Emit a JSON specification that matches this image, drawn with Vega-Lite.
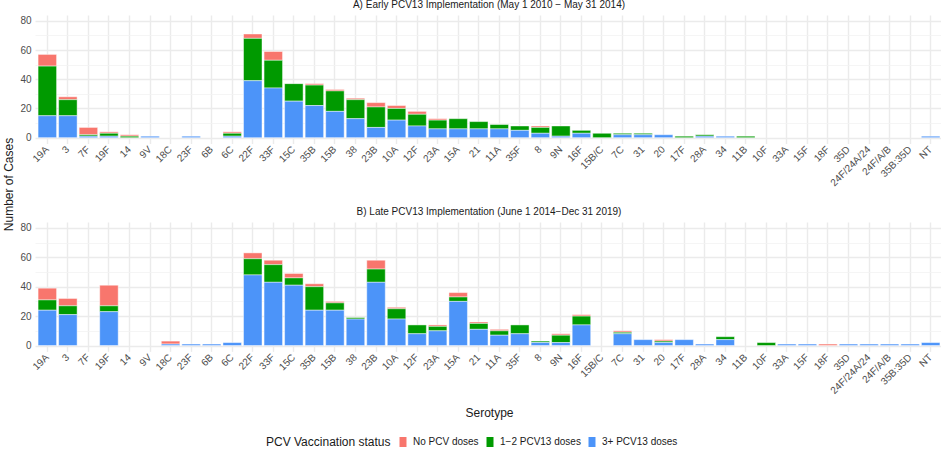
{
  "$schema": "https://vega.github.io/schema/vega-lite/v6.json",
  "padding": {"left": 2, "top": 0, "right": 0, "bottom": 0},
  "background": "white",
  "config": {
    "font": "Liberation Sans",
    "view": {"stroke": null},
    "title": {"fontSize": 10, "fontWeight": "normal", "color": "#1A1A1A", "anchor": "middle", "offset": 5, "font": "Liberation Sans"},
    "axis": {"labelFont": "Liberation Sans", "titleFont": "Liberation Sans"}
  },
  "datasets": {
    "cases": [
      {"p": "A", "s": "19A", "no": 8, "one": 34, "three": 15},
      {"p": "A", "s": "3", "no": 2, "one": 11, "three": 15},
      {"p": "A", "s": "7F", "no": 5, "one": 1, "three": 1},
      {"p": "A", "s": "19F", "no": 1, "one": 2, "three": 1},
      {"p": "A", "s": "14", "no": 1, "one": 1, "three": 0},
      {"p": "A", "s": "9V", "no": 0, "one": 0, "three": 1},
      {"p": "A", "s": "23F", "no": 0, "one": 0, "three": 1},
      {"p": "A", "s": "6C", "no": 1, "one": 2, "three": 1},
      {"p": "A", "s": "22F", "no": 3, "one": 29, "three": 39},
      {"p": "A", "s": "33F", "no": 6, "one": 19, "three": 34},
      {"p": "A", "s": "15C", "no": 0, "one": 12, "three": 25},
      {"p": "A", "s": "35B", "no": 1, "one": 14, "three": 22},
      {"p": "A", "s": "15B", "no": 1, "one": 14, "three": 18},
      {"p": "A", "s": "38", "no": 1, "one": 13, "three": 13},
      {"p": "A", "s": "23B", "no": 3, "one": 14, "three": 7},
      {"p": "A", "s": "10A", "no": 2, "one": 8, "three": 12},
      {"p": "A", "s": "12F", "no": 2, "one": 8, "three": 8},
      {"p": "A", "s": "23A", "no": 1, "one": 6, "three": 6},
      {"p": "A", "s": "15A", "no": 0, "one": 7, "three": 6},
      {"p": "A", "s": "21", "no": 0, "one": 5, "three": 6},
      {"p": "A", "s": "11A", "no": 0, "one": 3, "three": 6},
      {"p": "A", "s": "35F", "no": 0, "one": 3, "three": 5},
      {"p": "A", "s": "8", "no": 1, "one": 4, "three": 3},
      {"p": "A", "s": "9N", "no": 0, "one": 7, "three": 1},
      {"p": "A", "s": "16F", "no": 0, "one": 2, "three": 3},
      {"p": "A", "s": "15B/C", "no": 0, "one": 3, "three": 0},
      {"p": "A", "s": "7C", "no": 0, "one": 1, "three": 2},
      {"p": "A", "s": "31", "no": 0, "one": 1, "three": 2},
      {"p": "A", "s": "20", "no": 0, "one": 0, "three": 2},
      {"p": "A", "s": "17F", "no": 0, "one": 1, "three": 0},
      {"p": "A", "s": "28A", "no": 0, "one": 1, "three": 1},
      {"p": "A", "s": "34", "no": 0, "one": 0, "three": 1},
      {"p": "A", "s": "11B", "no": 0, "one": 1, "three": 0},
      {"p": "A", "s": "NT", "no": 0, "one": 0, "three": 1},
      {"p": "B", "s": "19A", "no": 8, "one": 7, "three": 24},
      {"p": "B", "s": "3", "no": 5, "one": 6, "three": 21},
      {"p": "B", "s": "19F", "no": 14, "one": 4, "three": 23},
      {"p": "B", "s": "18C", "no": 2, "one": 0, "three": 1},
      {"p": "B", "s": "23F", "no": 0, "one": 0, "three": 1},
      {"p": "B", "s": "6B", "no": 0, "one": 0, "three": 1},
      {"p": "B", "s": "6C", "no": 0, "one": 0, "three": 2},
      {"p": "B", "s": "22F", "no": 4, "one": 11, "three": 48},
      {"p": "B", "s": "33F", "no": 3, "one": 12, "three": 43},
      {"p": "B", "s": "15C", "no": 3, "one": 5, "three": 41},
      {"p": "B", "s": "35B", "no": 2, "one": 16, "three": 24},
      {"p": "B", "s": "15B", "no": 1, "one": 5, "three": 24},
      {"p": "B", "s": "38", "no": 0, "one": 1, "three": 18},
      {"p": "B", "s": "23B", "no": 6, "one": 9, "three": 43},
      {"p": "B", "s": "10A", "no": 1, "one": 7, "three": 18},
      {"p": "B", "s": "12F", "no": 0, "one": 6, "three": 8},
      {"p": "B", "s": "23A", "no": 1, "one": 3, "three": 10},
      {"p": "B", "s": "15A", "no": 3, "one": 3, "three": 30},
      {"p": "B", "s": "21", "no": 1, "one": 4, "three": 11},
      {"p": "B", "s": "11A", "no": 1, "one": 3, "three": 7},
      {"p": "B", "s": "35F", "no": 0, "one": 6, "three": 8},
      {"p": "B", "s": "8", "no": 0, "one": 1, "three": 2},
      {"p": "B", "s": "9N", "no": 1, "one": 5, "three": 2},
      {"p": "B", "s": "16F", "no": 1, "one": 6, "three": 14},
      {"p": "B", "s": "7C", "no": 1, "one": 1, "three": 8},
      {"p": "B", "s": "31", "no": 0, "one": 0, "three": 4},
      {"p": "B", "s": "20", "no": 1, "one": 1, "three": 2},
      {"p": "B", "s": "17F", "no": 0, "one": 0, "three": 4},
      {"p": "B", "s": "28A", "no": 0, "one": 0, "three": 1},
      {"p": "B", "s": "34", "no": 0, "one": 2, "three": 4},
      {"p": "B", "s": "10F", "no": 0, "one": 2, "three": 0},
      {"p": "B", "s": "33A", "no": 0, "one": 0, "three": 1},
      {"p": "B", "s": "15F", "no": 0, "one": 0, "three": 1},
      {"p": "B", "s": "18F", "no": 1, "one": 0, "three": 0},
      {"p": "B", "s": "35D", "no": 0, "one": 0, "three": 1},
      {"p": "B", "s": "24F/24A/24", "no": 0, "one": 0, "three": 1},
      {"p": "B", "s": "24F/A/B", "no": 0, "one": 0, "three": 1},
      {"p": "B", "s": "35B:35D", "no": 0, "one": 0, "three": 1},
      {"p": "B", "s": "NT", "no": 0, "one": 0, "three": 2}
    ]
  },
  "data": {"name": "cases"},
  "spacing": 78,
  "bounds": "flush",
  "vconcat": [
    {
      "width": 908,
      "height": 128.5,
      "title": {"text": "A) Early PCV13 Implementation (May 1 2010 − May 31 2014)"},
      "transform": [
        {"filter": "datum.p === 'A'"},
        {"fold": ["no", "one", "three"], "as": ["status", "n"]},
        {"filter": "datum.n > 0"}
      ],
      "mark": {"type": "bar", "stroke": "white", "strokeWidth": 0.45},
      "encoding": {
        "x": {
          "field": "s", "type": "nominal",
          "scale": {"domain": ["19A","3","7F","19F","14","9V","18C","23F","6B","6C","22F","33F","15C","35B","15B","38","23B","10A","12F","23A","15A","21","11A","35F","8","9N","16F","15B/C","7C","31","20","17F","28A","34","11B","10F","33A","15F","18F","35D","24F/24A/24","24F/A/B","35B:35D","NT"], "paddingInner": 0.1, "paddingOuter": 0.15},
          "axis": {"title": null, "bandPosition": 0.5, "grid": true, "gridColor": "#EBEBEB", "gridWidth": 1.4, "domain": false, "ticks": false, "labelAngle": -45, "labelAlign": "right", "labelBaseline": "middle", "labelPadding": 4, "labelFontSize": 10, "labelColor": "#4D4D4D"}
        },
        "y": {
          "field": "n", "type": "quantitative", "stack": "zero",
          "scale": {"domain": [-4, 84], "nice": false, "zero": false},
          "axis": {"title": "Number of Cases", "titleFontSize": 12, "titleFontWeight": "normal", "titleColor": "#1A1A1A", "titleX": -23, "titleY": 169, "titleAngle": -90, "titleAlign": "center", "titleBaseline": "alphabetic",
            "values": [0, 10, 20, 30, 40, 50, 60, 70, 80],
            "labelExpr": "datum.value % 20 === 0 ? datum.label : ''",
            "gridColor": {"condition": {"test": "datum.value % 20 !== 0", "value": "#F3F3F3"}, "value": "#EBEBEB"},
            "gridWidth": {"condition": {"test": "datum.value % 20 !== 0", "value": 0.8}, "value": 1.4},
            "domain": false, "ticks": false, "labelPadding": 4, "labelFontSize": 10, "labelColor": "#4D4D4D"}
        },
        "color": {
          "field": "status", "type": "nominal",
          "scale": {"domain": ["no", "one", "three"], "range": ["#F8766D", "#009A00", "#4C94F9"]},
          "legend": {
            "title": "PCV Vaccination status", "orient": "none", "legendX": 231, "legendY": 422, "direction": "horizontal", "columns": 3,
            "titleOrient": "left", "titleFontSize": 12, "titleFontWeight": "normal", "titleColor": "#1A1A1A", "titlePadding": 7, "titleBaseline": "middle",
            "labelFontSize": 10, "labelColor": "#1A1A1A", "labelOffset": 5, "columnPadding": 6,
            "symbolType": "M-0.7,-1H0.7V1H-0.7Z", "symbolSize": 100, "symbolStrokeWidth": 0, "symbolOpacity": 1,
            "labelExpr": "datum.value === 'no' ? 'No PCV doses' : datum.value === 'one' ? '1−2 PCV13 doses' : '3+ PCV13 doses'"
          }
        },
        "order": {"field": "status", "sort": "descending"}
      }
    },
    {
      "width": 908,
      "height": 129.4,
      "title": {"text": "B) Late PCV13 Implementation (June 1 2014−Dec 31 2019)"},
      "transform": [
        {"filter": "datum.p === 'B'"},
        {"fold": ["no", "one", "three"], "as": ["status", "n"]},
        {"filter": "datum.n > 0"}
      ],
      "mark": {"type": "bar", "stroke": "white", "strokeWidth": 0.45},
      "encoding": {
        "x": {
          "field": "s", "type": "nominal",
          "scale": {"domain": ["19A","3","7F","19F","14","9V","18C","23F","6B","6C","22F","33F","15C","35B","15B","38","23B","10A","12F","23A","15A","21","11A","35F","8","9N","16F","15B/C","7C","31","20","17F","28A","34","11B","10F","33A","15F","18F","35D","24F/24A/24","24F/A/B","35B:35D","NT"], "paddingInner": 0.1, "paddingOuter": 0.15},
          "axis": {"title": "Serotype", "titleFontSize": 12, "titleFontWeight": "normal", "titleColor": "#1A1A1A", "titlePadding": 12, "bandPosition": 0.5, "grid": true, "gridColor": "#EBEBEB", "gridWidth": 1.4, "domain": false, "ticks": false, "labelAngle": -45, "labelAlign": "right", "labelBaseline": "middle", "labelPadding": 4, "labelFontSize": 10, "labelColor": "#4D4D4D"}
        },
        "y": {
          "field": "n", "type": "quantitative", "stack": "zero",
          "scale": {"domain": [-4, 84], "nice": false, "zero": false},
          "axis": {"title": null,
            "values": [0, 10, 20, 30, 40, 50, 60, 70, 80],
            "labelExpr": "datum.value % 20 === 0 ? datum.label : ''",
            "gridColor": {"condition": {"test": "datum.value % 20 !== 0", "value": "#F3F3F3"}, "value": "#EBEBEB"},
            "gridWidth": {"condition": {"test": "datum.value % 20 !== 0", "value": 0.8}, "value": 1.4},
            "domain": false, "ticks": false, "labelPadding": 4, "labelFontSize": 10, "labelColor": "#4D4D4D"}
        },
        "color": {
          "field": "status", "type": "nominal",
          "scale": {"domain": ["no", "one", "three"], "range": ["#F8766D", "#009A00", "#4C94F9"]}
        },
        "order": {"field": "status", "sort": "descending"}
      }
    }
  ]
}
